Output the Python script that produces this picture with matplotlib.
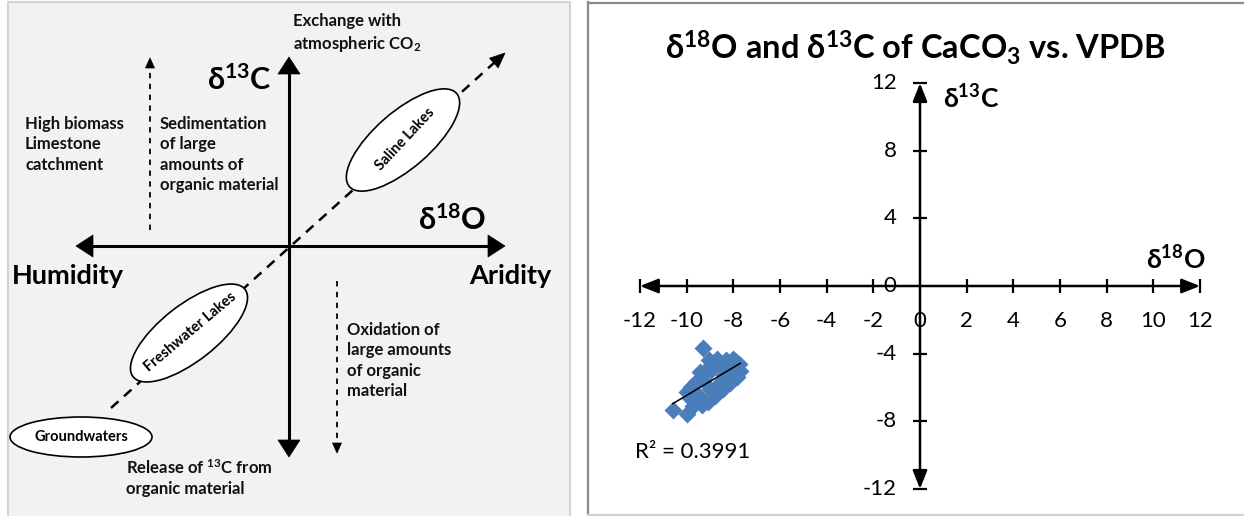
import numpy as np
import matplotlib.pyplot as plt
from matplotlib.patches import Ellipse, Rectangle, Polygon, FancyArrowPatch

plt.rcParams['font.family'] = ['Lato', 'DejaVu Sans']
plt.rcParams['mathtext.default'] = 'regular'

# Datos del panel derecho
d18O = np.array([-10.6, -10.0, -9.75, -9.85, -10.0, -9.8, -9.5, -9.35, -9.1, -9.6,
                 -9.3, -9.0, -8.8, -8.65, -9.3, -9.05, -8.95, -8.6, -8.4, -8.3,
                 -8.1, -7.95, -7.75, -7.7, -7.85, -8.15, -8.45, -9.2, -8.0, -8.7,
                 -9.45, -8.5])
d13C = np.array([-7.35, -7.55, -7.1, -6.65, -6.3, -6.0, -6.45, -7.05, -6.85, -5.7,
                 -5.55, -6.1, -6.5, -5.85, -3.65, -4.35, -4.95, -4.6, -5.25, -4.4,
                 -4.9, -4.45, -4.6, -5.0, -5.4, -5.75, -6.1, -5.0, -4.3, -4.3,
                 -5.1, -5.6])
r2_texto = 'R² = 0.3991'
ticks_x = np.arange(-12, 13, 2)
ticks_y = np.arange(-12, 13, 4)

W, H = 1244, 516
fig = plt.figure(figsize=(W / 100, H / 100), dpi=100)


def punta(ax, tip, direc, largo, ancho):
    """Dibuja una punta de flecha triangular (coordenadas en pixeles)."""
    d = np.array(direc, float)
    d = d / np.hypot(*d)
    p = np.array([-d[1], d[0]])
    t = np.array(tip, float)
    b = t - d * largo
    ax.add_patch(Polygon([t, b + p * ancho / 2, b - p * ancho / 2], closed=True,
                         fc='black', ec='black', lw=0.5, zorder=5))


# ---------------- panel izquierdo: esquema conceptual ----------------
ax1 = fig.add_axes([0, 0, 580 / W, 1])
ax1.set_xlim(0, 580)
ax1.set_ylim(H, 0)
ax1.axis('off')
ax1.add_patch(Rectangle((8, 2), 562, 530, fc='#f2f2f2', ec='#d3d3d3', lw=1.5, clip_on=False))

# ejes principales
ax1.plot([92, 489], [246, 246], color='black', lw=2.2, solid_capstyle='butt')
punta(ax1, (76, 246), (-1, 0), 17, 22)
punta(ax1, (505, 246), (1, 0), 17, 22)
ax1.plot([289, 289], [72, 441], color='black', lw=2.2, solid_capstyle='butt')
punta(ax1, (289, 57), (0, -1), 17, 22)
punta(ax1, (289, 457), (0, 1), 17, 22)

# diagonal discontinua
ax1.plot([111, 495], [408, 62], color='black', lw=1.8, dashes=(4, 3), zorder=2)
punta(ax1, (505, 53), (394, -355), 15, 13)

# flechas verticales discontinuas
ax1.plot([150, 150], [230, 68], color='black', lw=1.3, dashes=(3, 3))
punta(ax1, (150, 58), (0, -1), 10, 9)
ax1.plot([337, 337], [281, 443], color='black', lw=1.3, dashes=(3, 3))
punta(ax1, (337, 453), (0, 1), 10, 9)

# elipses
ax1.add_patch(Ellipse((403, 140), 142, 56, angle=-41, fc='white', ec='black', lw=1.2, zorder=3))
ax1.add_patch(Ellipse((189, 333), 142, 56, angle=-38, fc='white', ec='black', lw=1.2, zorder=3))
ax1.add_patch(Ellipse((81, 437), 142, 40, fc='white', ec='black', lw=1.2, zorder=3))
ax1.text(405, 139, 'Saline Lakes', rotation=47, ha='center', va='center',
         fontsize=10.5, fontweight='bold', zorder=4)
ax1.text(190, 332, 'Freshwater Lakes', rotation=40, ha='center', va='center',
         fontsize=10.5, fontweight='bold', zorder=4)
ax1.text(81, 437, 'Groundwaters', ha='center', va='center',
         fontsize=10.5, fontweight='bold', zorder=4)

# textos
kw = dict(fontsize=12, fontweight='bold', color='#111111', linespacing=1.33)
ax1.text(293, 13, 'Exchange with\natmospheric CO$_2$', ha='left', va='top', **kw)
ax1.text(25, 116, 'High biomass\nLimestone\ncatchment', ha='left', va='top', **kw)
ax1.text(160, 116, 'Sedimentation\nof large\namounts of\norganic material', ha='left', va='top', **kw)
ax1.text(347, 322, 'Oxidation of\nlarge amounts\nof organic\nmaterial', ha='left', va='top', **kw)
ax1.text(126, 458, 'Release of $^{13}$C from\norganic material', ha='left', va='top', **kw)
ax1.text(272, 80, 'δ$^{13}$C', ha='right', va='center', fontsize=22, fontweight='bold')
ax1.text(418, 220, 'δ$^{18}$O', ha='left', va='center', fontsize=22, fontweight='bold')
ax1.text(12, 276, 'Humidity', ha='left', va='center', fontsize=19.5, fontweight='bold')
ax1.text(551, 276, 'Aridity', ha='right', va='center', fontsize=19.5, fontweight='bold')

# ---------------- panel derecho: datos ----------------
ppx, ppy = 23.33, 16.9      # pixeles por unidad
x0, y0 = 920 - 588, 286     # origen en pixeles dentro del panel
ax2 = fig.add_axes([588 / W, 0, (W - 588) / W, 1])
ax2.set_xlim(-x0 / ppx, (W - 588 - x0) / ppx)
ax2.set_ylim((y0 - H) / ppy, y0 / ppy)
ax2.axis('off')

# marco
ax2.plot([0, 0], [0, 1 - 2 / H], transform=ax2.transAxes, color='#8a8a8a', lw=1.6, clip_on=False)
ax2.plot([0, 1], [1 - 3 / H, 1 - 3 / H], transform=ax2.transAxes, color='#8a8a8a', lw=1.6, clip_on=False)
ax2.plot([0, 1], [1.5 / H, 1.5 / H], transform=ax2.transAxes, color='#d0d0d0', lw=1.6, clip_on=False)

# ejes con flechas
flecha = dict(arrowstyle='<|-|>,head_length=0.55,head_width=0.22', mutation_scale=20,
              shrinkA=0, shrinkB=0, color='black', lw=1.8)
ax2.add_patch(FancyArrowPatch((ticks_x[0], 0), (ticks_x[-1], 0), **flecha))
ax2.add_patch(FancyArrowPatch((0, ticks_y[0]), (0, ticks_y[-1]), **flecha))
ax2.plot(ticks_x[(ticks_x != 0)], np.zeros(np.sum(ticks_x != 0)), '|', color='black', ms=10, mew=1.6)
ax2.plot(np.zeros(np.sum(ticks_y != 0)), ticks_y[ticks_y != 0], '_', color='black', ms=10, mew=1.6)

for t in ticks_x:
    ax2.text(t, -2.1, f'{t:d}', ha='center', va='center', fontsize=16)
for t in ticks_y:
    ax2.text(-1.0, t, f'{t:d}', ha='right', va='center', fontsize=16)

ax2.text(-0.2, 14.1, 'δ$^{18}$O and δ$^{13}$C of CaCO$_3$ vs. VPDB', ha='center', va='center',
         fontsize=23.5, fontweight='bold')
ax2.text(1.0, 11.1, 'δ$^{13}$C', ha='left', va='center', fontsize=19, fontweight='bold')
ax2.text(12.25, 1.6, 'δ$^{18}$O', ha='right', va='center', fontsize=19, fontweight='bold')

# dispersion y linea de tendencia
ax2.plot(d18O, d13C, 'D', color='#4a7ebb', ms=9, mec='none', zorder=3)
coef = np.polyfit(d18O, d13C, 1)
xx = np.array([d18O.min(), d18O.max()])
ax2.plot(xx, np.polyval(coef, xx), color='black', lw=1.1, zorder=4)
ax2.text(-12.2, -9.8, r2_texto, ha='left', va='center', fontsize=16)

fig.savefig('out.png', dpi=100)
